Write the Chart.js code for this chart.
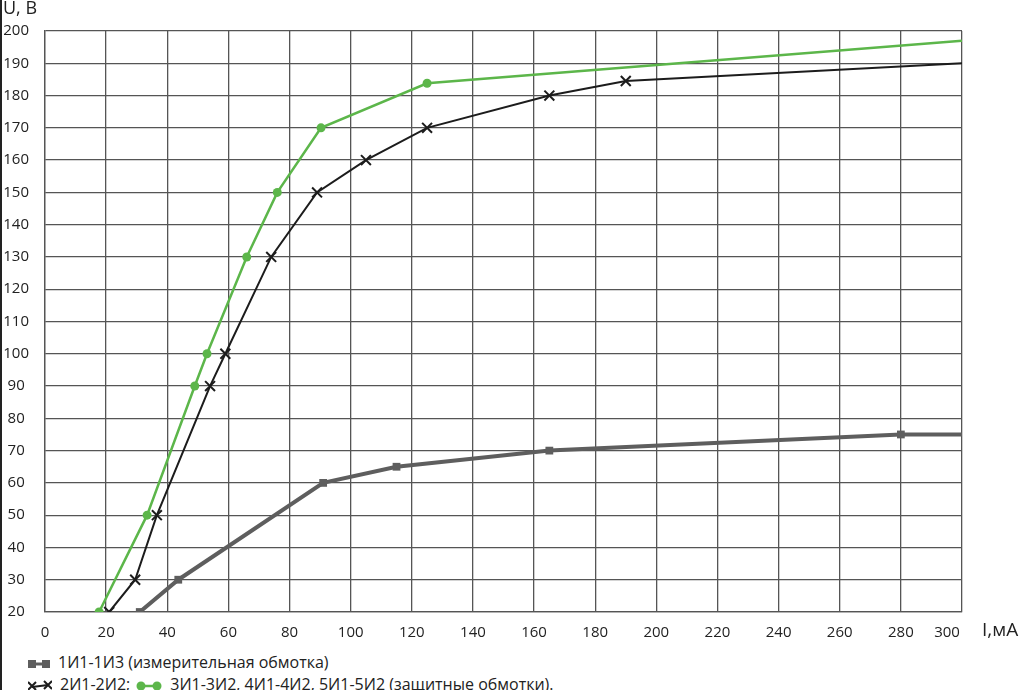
<!DOCTYPE html>
<html>
<head>
<meta charset="utf-8">
<script src="https://cdn.jsdelivr.net/npm/chart.js@4"></script>
<style>
  html, body { margin: 0; padding: 0; background: #fff; }
  body { width: 1025px; height: 690px; overflow: hidden; position: relative; font-family: "Open Sans", sans-serif; }
  #edge { position: absolute; left: 0; top: 0; width: 2px; height: 690px; background: #222; }
  #wrap { position: absolute; left: 0; top: 0; width: 1025px; height: 650px; }
  #legend { position: absolute; left: 28px; top: 651px; font-size: 16px; line-height: 22px; color: #222; white-space: nowrap; }
  #legend svg { vertical-align: middle; margin-right: 8px; }
  #legend .item { margin-right: 6px; }
</style>
</head>
<body>
<div id="edge"></div>
<div id="wrap"><canvas id="chart"></canvas></div>
<div id="legend"></div>
<script>
// I, mA -> U, V curves
const measureI = [31, 43.6, 91, 115, 165, 280, 300];
const measureU = [20, 30, 60, 65, 70, 75, 75];

const winding2I = [21, 29.5, 36.6, 54, 59, 74, 89, 105, 125, 165, 190, 300];
const winding2U = [20, 30, 50, 90, 100, 130, 150, 160, 170, 180, 184.5, 190];

const windingsI = [17.7, 33.4, 49, 53, 66, 76, 90.3, 125, 300];
const windingsU = [20, 50, 90, 100, 130, 150, 170, 183.8, 197];

const seriesLabels = [
  '1И1-1И3 (измерительная обмотка)',
  '2И1-2И2;',
  '3И1-3И2, 4И1-4И2, 5И1-5И2 (защитные обмотки).'
];
const yTitle = 'U, B';
const xTitle = 'I,мА';

const grayC = '#5e5e5e', blackC = '#1c1c1c', greenC = '#5cb64a', gridC = '#555';

function pts(xs, ys) {
  return xs.map((x, i) => ({ x: x, y: ys[i] }));
}
// no marker on the final point of every curve
function radii(n, r) {
  return Array.from({ length: n }, (_, i) => i === n - 1 ? 0 : r);
}

const axisTitles = {
  id: 'axisTitles',
  afterDraw(chart) {
    const ctx = chart.ctx, area = chart.chartArea;
    ctx.save();
    ctx.fillStyle = '#222';
    ctx.font = '18px "Open Sans"';
    ctx.textBaseline = 'alphabetic';
    ctx.fillText(yTitle, 3, 14);
    ctx.font = '19px "Open Sans"';
    ctx.textBaseline = 'middle';
    ctx.fillText(xTitle, area.right + 20, area.bottom + 19);
    ctx.restore();
  }
};

const tickFont = { family: 'Open Sans', size: 15 };

new Chart(document.getElementById('chart'), {
  type: 'line',
  data: {
    datasets: [
      {
        label: seriesLabels[0],
        data: pts(measureI, measureU),
        borderColor: grayC,
        backgroundColor: grayC,
        borderWidth: 4,
        pointStyle: 'rect',
        pointRadius: radii(measureI.length, 5.5),
        pointBorderWidth: 0,
        tension: 0
      },
      {
        label: seriesLabels[1],
        data: pts(winding2I, winding2U),
        borderColor: blackC,
        backgroundColor: blackC,
        borderWidth: 2,
        pointStyle: 'crossRot',
        pointRadius: radii(winding2I.length, 7),
        pointBorderWidth: 2,
        tension: 0
      },
      {
        label: seriesLabels[2],
        data: pts(windingsI, windingsU),
        borderColor: greenC,
        backgroundColor: greenC,
        borderWidth: 2.5,
        pointStyle: 'circle',
        pointRadius: radii(windingsI.length, 4.5),
        pointBorderWidth: 0,
        tension: 0
      }
    ]
  },
  options: {
    responsive: true,
    maintainAspectRatio: false,
    animation: false,
    layout: { padding: { top: 31, right: 63, left: 0, bottom: 8 } },
    plugins: { legend: { display: false }, tooltip: { enabled: false } },
    scales: {
      x: {
        type: 'linear',
        min: 0,
        max: 300,
        afterFit(s) { s.height = 30; },
        grid: { color: gridC, lineWidth: 1.3, drawTicks: false },
        border: { color: gridC, width: 1.3 },
        ticks: {
          stepSize: 20,
          padding: 12,
          color: '#222',
          font: tickFont,
          maxRotation: 0,
          callback: v => v === 300 ? '300\u2003\u2003' : v
        }
      },
      y: {
        min: 20,
        max: 200,
        afterFit(s) { s.width = 45; },
        grid: { color: gridC, lineWidth: 1.3, drawTicks: false },
        border: { color: gridC, width: 1.3 },
        ticks: { stepSize: 10, padding: 16, crossAlign: 'center', color: '#222', font: tickFont }
      }
    }
  },
  plugins: [axisTitles]
});

// two-row legend under the plot
const icons = [
  `<svg width="22" height="10"><line x1="3" y1="5" x2="19" y2="5" stroke="${grayC}" stroke-width="3"/><rect x="0" y="1" width="8" height="8" fill="${grayC}"/><rect x="14" y="1" width="8" height="8" fill="${grayC}"/></svg>`,
  `<svg width="24" height="12"><line x1="4" y1="7" x2="20" y2="5" stroke="${blackC}" stroke-width="2"/><path d="M0 2 L8 10 M8 2 L0 10 M16 1 L24 9 M24 1 L16 9" stroke="${blackC}" stroke-width="2"/></svg>`,
  `<svg width="26" height="10"><line x1="4" y1="5" x2="22" y2="5" stroke="${greenC}" stroke-width="2.5"/><circle cx="5" cy="5" r="4.5" fill="${greenC}"/><circle cx="21" cy="5" r="4.5" fill="${greenC}"/></svg>`
];
document.getElementById('legend').innerHTML =
  `<div>${icons[0]}<span>${seriesLabels[0]}</span></div>` +
  `<div>${icons[1]}<span class="item">${seriesLabels[1]}</span>${icons[2]}<span>${seriesLabels[2]}</span></div>`;
</script>
</body>
</html>
